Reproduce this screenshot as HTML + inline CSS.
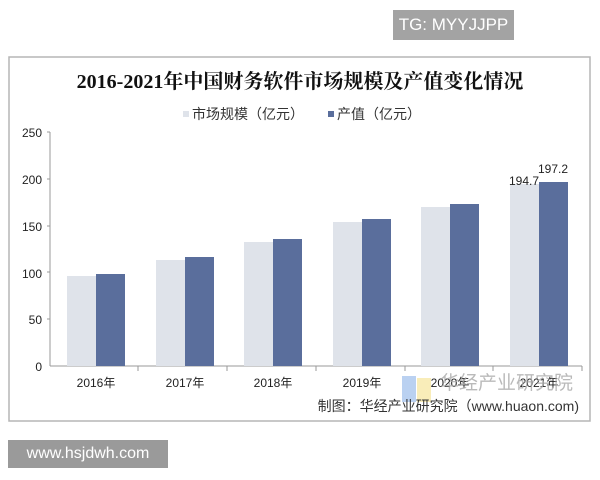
<!DOCTYPE html>
<html><head><meta charset="utf-8"><style>
body{margin:0;width:600px;height:480px;background:#fff;position:relative;overflow:hidden;font-family:"Liberation Sans","Noto Sans CJK SC",sans-serif}
.tg{position:absolute;left:393px;top:10px;width:121px;height:30px;background:#a3a3a3;color:#fff;font-size:17px;line-height:30px;text-align:center}
.wm{position:absolute;left:8px;top:440px;width:160px;height:28px;background:#9a9a9a;color:#fff;font-size:16px;line-height:28px;text-align:center}
</style></head><body>
<div class="tg">TG: MYYJJPP</div>
<svg width="600" height="480" style="position:absolute;left:0;top:0">
<rect x="9" y="57" width="581" height="364" fill="#fff" stroke="#b5b5b5" stroke-width="1.5"/>
<text x="300" y="88" text-anchor="middle" font-family="Liberation Serif,Noto Serif CJK SC,serif" font-weight="bold" font-size="20" fill="#111">2016-2021年中国财务软件市场规模及产值变化情况</text>
<rect x="183" y="111" width="6" height="6" fill="#dfe3ea"/>
<text x="192" y="119" font-size="14" fill="#333" font-family="Liberation Sans,Noto Sans CJK SC,sans-serif">市场规模（亿元）</text>
<rect x="328" y="111" width="6" height="6" fill="#5a6e9c"/>
<text x="337" y="119" font-size="14" fill="#333" font-family="Liberation Sans,Noto Sans CJK SC,sans-serif">产值（亿元）</text>
<g font-size="12" fill="#222" text-anchor="end">
<text x="42" y="137">250</text><text x="42" y="184">200</text><text x="42" y="231">150</text><text x="42" y="278">100</text><text x="42" y="324">50</text><text x="42" y="371">0</text>
</g>
<g stroke="#999" stroke-width="1">
<line x1="50" y1="132" x2="50" y2="366"/>
<line x1="50" y1="366" x2="582" y2="366"/>
<line x1="47" y1="132" x2="50" y2="132"/><line x1="47" y1="179" x2="50" y2="179"/><line x1="47" y1="226" x2="50" y2="226"/><line x1="47" y1="272" x2="50" y2="272"/><line x1="47" y1="319" x2="50" y2="319"/>
<line x1="138" y1="366" x2="138" y2="371"/><line x1="227" y1="366" x2="227" y2="371"/><line x1="316" y1="366" x2="316" y2="371"/><line x1="405" y1="366" x2="405" y2="371"/><line x1="493" y1="366" x2="493" y2="371"/><line x1="582" y1="366" x2="582" y2="371"/>
</g>
<g fill="#dfe3ea">
<rect x="67" y="276" width="29" height="90"/><rect x="156" y="260" width="29" height="106"/><rect x="244" y="242" width="29" height="124"/><rect x="333" y="222" width="29" height="144"/><rect x="421" y="207" width="29" height="159"/><rect x="510" y="184" width="29" height="182"/>
</g>
<g fill="#5a6e9c">
<rect x="96" y="274" width="29" height="92"/><rect x="185" y="257" width="29" height="109"/><rect x="273" y="239" width="29" height="127"/><rect x="362" y="219" width="29" height="147"/><rect x="450" y="204" width="29" height="162"/><rect x="539" y="182" width="29" height="184"/>
</g>
<text x="539" y="185" font-size="12" fill="#222" text-anchor="end">194.7</text>
<text x="553" y="173" font-size="12" fill="#222" text-anchor="middle">197.2</text>
<g font-size="12" fill="#222" text-anchor="middle">
<text x="96" y="387">2016年</text><text x="185" y="387">2017年</text><text x="273" y="387">2018年</text><text x="362" y="387">2019年</text><text x="450" y="387">2020年</text><text x="539" y="387">2021年</text>
</g>
<rect x="402" y="376" width="14" height="26" fill="#a9c6ee" opacity="0.8"/>
<rect x="417" y="378" width="14" height="24" fill="#f7e9a8" opacity="0.8"/>
<text x="440" y="389" font-size="19" fill="#aaa" opacity="0.8">华经产业研究院</text>
<text x="579" y="411" font-size="14" fill="#333" text-anchor="end">制图：华经产业研究院（www.huaon.com)</text>
</svg>
<div class="wm">www.hsjdwh.com</div>
</body></html>
